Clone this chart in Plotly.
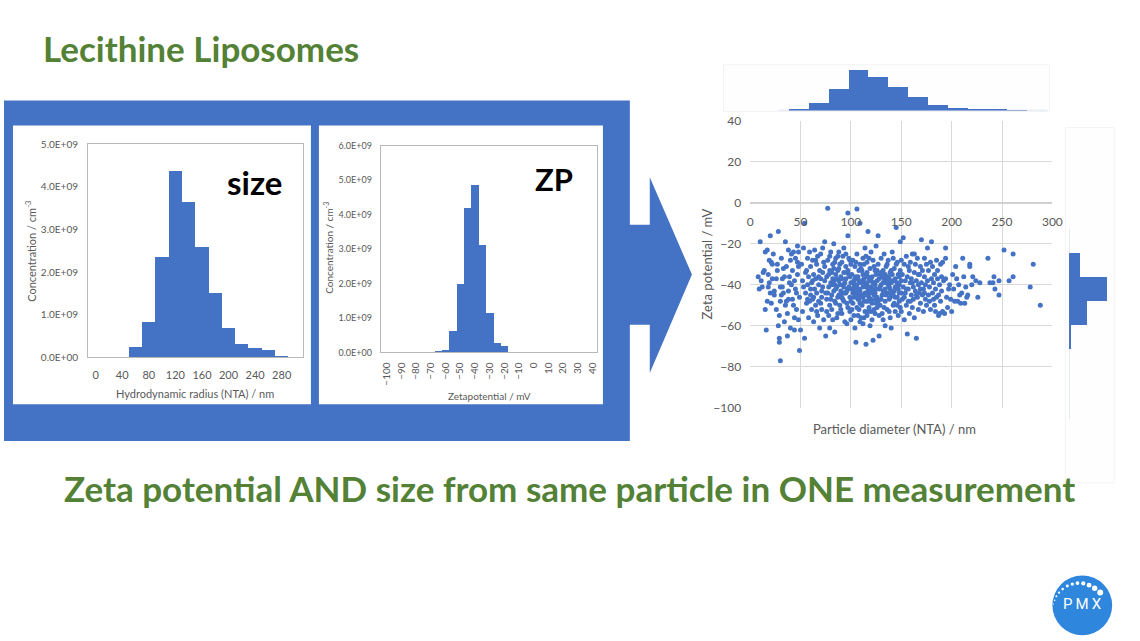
import plotly.graph_objects as go

W, H = 1140, 641

# ---------------- data ----------------
size_bin_centers_nm = [60, 80, 100, 120, 140, 160, 180, 200, 220, 240, 260, 280]
size_concentration = [0.24e9, 0.83e9, 2.36e9, 4.36e9, 3.63e9, 2.59e9, 1.51e9, 0.69e9,
                      0.32e9, 0.22e9, 0.17e9, 0.04e9]
size_xticks = [0, 40, 80, 120, 160, 200, 240, 280]
size_yticks = [0, 1e9, 2e9, 3e9, 4e9, 5e9]
size_yticklabels = ["0.0E+00", "1.0E+09", "2.0E+09", "3.0E+09", "4.0E+09", "5.0E+09"]

zp_bin_centers_mV = [-65, -60, -55, -50, -45, -40, -35, -30, -25, -20]
zp_concentration = [0.03e9, 0.08e9, 0.64e9, 2.0e9, 4.19e9, 4.86e9, 3.13e9, 1.16e9, 0.29e9, 0.19e9]
zp_xticks = [-100, -90, -80, -70, -60, -50, -40, -30, -20, -10, 0, 10, 20, 30, 40]
zp_yticks = [0, 1e9, 2e9, 3e9, 4e9, 5e9, 6e9]
zp_yticklabels = ["0.0E+00", "1.0E+09", "2.0E+09", "3.0E+09", "4.0E+09", "5.0E+09", "6.0E+09"]

particle_diameter_nm = [
    8, 10, 11, 12, 14, 15, 16, 17, 18, 19,
    20, 21, 22, 23, 24, 13, 17, 19, 21, 24,
    9, 15, 22, 18, 20, 26, 27, 28, 28, 29,
    29, 30, 30, 31, 32, 33, 34, 35, 35, 36,
    37, 37, 38, 38, 39, 40, 40, 41, 42, 42,
    43, 44, 44, 45, 46, 46, 47, 47, 48, 48,
    49, 49, 50, 26, 31, 33, 36, 39, 41, 43,
    45, 47, 29, 34, 38, 44, 48, 30, 27, 32,
    51, 52, 52, 53, 54, 54, 55, 55, 56, 57,
    57, 58, 58, 59, 60, 60, 61, 61, 62, 62,
    63, 63, 64, 64, 65, 65, 66, 66, 67, 67,
    68, 68, 69, 69, 70, 70, 71, 71, 72, 72,
    73, 73, 74, 74, 75, 75, 53, 56, 59, 62,
    65, 68, 71, 74, 66, 60, 70, 57, 63, 72,
    76, 76, 77, 77, 78, 78, 79, 79, 80, 80,
    81, 81, 82, 82, 83, 83, 84, 84, 85, 85,
    86, 86, 87, 87, 88, 88, 89, 89, 90, 90,
    91, 91, 92, 92, 93, 93, 94, 94, 95, 95,
    96, 96, 97, 97, 97, 98, 98, 99, 99, 100,
    100, 77, 79, 81, 83, 85, 87, 89, 91, 93,
    95, 97, 99, 78, 80, 82, 84, 86, 88, 90,
    92, 94, 96, 98, 100, 76, 84, 88, 92, 96,
    99, 93, 87, 81, 79, 85, 91, 97, 83, 95,
    101, 101, 102, 102, 103, 103, 104, 104, 105, 105,
    106, 106, 106, 107, 107, 108, 108, 109, 109, 109,
    110, 110, 111, 111, 112, 112, 113, 113, 114, 114,
    115, 115, 115, 116, 116, 117, 117, 117, 118, 118,
    119, 119, 120, 120, 121, 121, 122, 122, 123, 123,
    124, 124, 125, 125, 102, 104, 106, 108, 110, 112,
    114, 116, 118, 120, 122, 124, 103, 105, 107, 109,
    111, 113, 115, 117, 119, 121, 123, 125, 101, 103,
    105, 107, 109, 111, 113, 115, 117, 119, 121, 123,
    125, 100, 108, 112, 116, 120, 124, 104, 118, 122,
    110, 114, 106, 120, 112, 118, 102, 124, 116, 108,
    126, 126, 127, 127, 128, 128, 129, 129, 130, 130,
    131, 131, 132, 132, 133, 133, 134, 134, 135, 135,
    136, 136, 137, 137, 138, 138, 139, 139, 140, 140,
    141, 141, 142, 142, 143, 143, 144, 144, 145, 145,
    146, 146, 147, 147, 148, 148, 149, 149, 150, 150,
    127, 129, 131, 133, 135, 137, 139, 141, 143, 145,
    147, 149, 126, 128, 130, 132, 134, 136, 138, 140,
    142, 144, 146, 148, 150, 128, 132, 136, 140, 144,
    148, 130, 134, 138, 142, 146, 150, 126, 139, 143,
    151, 151, 152, 152, 153, 153, 154, 154, 155, 155,
    156, 156, 157, 157, 158, 158, 159, 159, 160, 160,
    161, 161, 162, 162, 163, 163, 164, 164, 165, 165,
    166, 166, 167, 167, 168, 168, 169, 169, 170, 170,
    171, 171, 172, 172, 173, 173, 174, 174, 175, 175,
    153, 157, 161, 165, 169, 173, 155, 159, 163, 167,
    176, 176, 177, 177, 178, 178, 179, 179, 180, 180,
    181, 181, 182, 182, 183, 183, 184, 184, 185, 185,
    186, 186, 187, 187, 188, 188, 189, 189, 190, 190,
    191, 191, 192, 193, 194, 194, 194, 195, 196, 197,
    203, 204, 205, 206, 208, 210, 211, 212, 213, 215,
    216, 218, 218, 220, 221, 224, 226, 228, 236, 238,
    241, 242, 243, 247, 247, 252, 257, 261, 261, 278,
    281, 288, 198, 199, 202, 207, 209, 214, 201, 200,
]
zeta_potential_mV = [
    -36, -19, -38, -41, -33, -24, -62, -48, -41, -28,
    -16, -49, -37, -25, -43, -34, -23, -39, -29, -45,
    -42, -52, -30, -35, -44, -37, -30, -14, -60, -66,
    -68, -77, -41, -45, -37, -32, -58, -19, -50, -48,
    -65, -54, -23, -43, -36, -28, -61, -40, -47, -33,
    -24, -56, -38, -27, -44, -52, -35, -21, -31, -57,
    -72, -46, -62, -52, -27, -44, -31, -39, -25, -50,
    -42, -29, -55, -36, -47, -62, -24, -48, -33, -41,
    -30, -38, -53, -22, -10, -66, -44, -34, -49, -27,
    -40, -56, -36, -24, -45, -31, -52, -39, -28, -47,
    -58, -35, -42, -23, -50, -37, -30, -44, -55, -26,
    -40, -48, -33, -61, -37, -25, -46, -52, -34, -41,
    -29, -57, -38, -19, -44, -65, -41, -33, -48, -38,
    -28, -36, -43, -31, -53, -42, -49, -47, -46, -22,
    -36, -47, -2.6, -28, -41, -55, -33, -61, -39, -24,
    -45, -52, -30, -37, -43, -20, -63, -48, -35, -27,
    -41, -56, -33, -46, -38, -24, -50, -30, -43, -36,
    -54, -29, -40, -47, -34, -22, -44, -58, -37, -31,
    -49, -59, -5, -16, -42, -27, -35, -46, -53, -39,
    -30, -44, -50, -34, -38, -42, -26, -40, -37, -48,
    -44, -33, -28, -35, -47, -57, -29, -37, -45, -52,
    -26, -39, -34, -41, -48, -53, -40, -32, -44, -43,
    -36, -41, -54, -40, -26, -49, -46, -51, -32, -25,
    -42, -35, -28, -49, -38, -55, -61, -31, -44, -68,
    -3, -40, -25, -47, -36, -52, -42, -10, -30, -58,
    -39, -45, -33, -50, -27, -41, -37, -56, -44, -22,
    -69, -48, -35, -40, -29, -14, -53, -43, -38, -46,
    -32, -60, -41, -24, -49, -36, -67, -44, -31, -39,
    -54, -47, -21, -42, -44, -37, -51, -33, -56, -46,
    -39, -34, -51, -37, -28, -40, -46, -29, -55, -43,
    -38, -48, -26, -36, -44, -57, -45, -35, -52, -41,
    -36, -42, -49, -45, -30, -41, -48, -38, -42, -52,
    -49, -57, -38, -35, -45, -47, -33, -43, -27, -39,
    -32, -53, -45, -53, -59, -42, -39, -44, -55, -47,
    -38, -46, -16, -30, -42, -65, -35, -50, -40, -27,
    -45, -54, -33, -43, -37, -25, -48, -60, -39, -31,
    -44, -52, -36, -28, -41, -47, -34, -56, -39, -61,
    -45, -24, -38, -50, -32, -43, -37, -53, -12, -41,
    -46, -29, -35, -55, -40, -48, -33, -19, -44, -38,
    -48, -41, -36, -51, -45, -40, -46, -35, -49, -30,
    -42, -51, -33, -55, -47, -39, -42, -30, -53, -44,
    -27, -46, -39, -36, -53, -37, -57, -38, -33, -41,
    -44, -34, -35, -37, -45, -50, -28, -51, -42, -38,
    -35, -47, -17, -41, -30, -57, -44, -38, -50, -26,
    -64, -36, -42, -48, -33, -54, -39, -29, -45, -37,
    -51, -25, -41, -47, -34, -56, -43, -30, -66, -38,
    -46, -27, -40, -52, -35, -44, -31, -49, -18, -39,
    -45, -33, -42, -53, -36, -27, -47, -40, -30, -50,
    -46, -31, -39, -45, -42, -44, -42, -48, -25, -35,
    -22, -38, -45, -33, -48, -41, -29, -52, -19, -37,
    -44, -31, -47, -39, -35, -50, -53, -42, -28, -46,
    -37, -33, -45, -55, -54, -40, -30, -48, -36, -43,
    -53, -29, -38, -54, -22, -27, -37, -46, -51, -42,
    -48, -31, -37, -48, -45, -44, -27, -36, -49, -46,
    -45, -30, -31, -40, -36, -38, -46, -39, -27, -39,
    -39, -36, -42, -38, -45, -23, -38, -25, -36, -41,
    -30, -50, -40, -47, -42, -40, -49, -41, -35, -53,
]
scatter_xticks = [0, 50, 100, 150, 200, 250, 300]
scatter_yticks = [-100, -80, -60, -40, -20, 0, 20, 40]

diam_hist_centers_nm = [48.6, 68.3, 88.0, 107.7, 127.4, 147.1, 166.8, 186.5, 206.2, 225.9, 245.6, 265.3]
diam_hist_counts = [12, 46, 130, 246, 202, 144, 84, 36, 14, 10, 6, 4]

zeta_hist_centers_mV = [-30.2, -41.9, -53.6, -65.3]
zeta_hist_counts = [265, 960, 445, 40]

# ---------------- styling helpers ----------------
BLUE = "#4472C4"
GREEN = "#538135"
GREY = "#595959"
FONT = "Lato"

# The captured picture shows the page slightly inset/shrunk; map slide pixels so they land in place.
OX, SX, OY, SY = 2.0, 0.992, 5.0, 0.981


def px(x):
    return ((x - OX) / SX) / W


def py(y):
    return 1 - ((y - OY) / SY) / H


fig = go.Figure()

fig.add_trace(go.Bar(x=size_bin_centers_nm, y=size_concentration, width=20,
                     marker=dict(color=BLUE, line=dict(width=0)),
                     xaxis="x", yaxis="y", showlegend=False))
fig.add_trace(go.Bar(x=zp_bin_centers_mV, y=zp_concentration, width=5,
                     marker=dict(color=BLUE, line=dict(width=0)),
                     xaxis="x2", yaxis="y2", showlegend=False))
fig.add_trace(go.Scatter(x=particle_diameter_nm, y=zeta_potential_mV, mode="markers",
                         marker=dict(color=BLUE, size=5, line=dict(width=0)),
                         xaxis="x3", yaxis="y3", showlegend=False))
fig.add_trace(go.Bar(x=diam_hist_centers_nm, y=diam_hist_counts, width=19.7,
                     marker=dict(color=BLUE, line=dict(width=0)),
                     xaxis="x4", yaxis="y4", showlegend=False))
fig.add_trace(go.Bar(y=zeta_hist_centers_mV, x=zeta_hist_counts, width=11.7, orientation="h",
                     marker=dict(color=BLUE, line=dict(width=0)),
                     xaxis="x5", yaxis="y5", showlegend=False))

frame = dict(showline=True, mirror=True, linecolor="#b8b8b8", linewidth=1,
             showgrid=False, zeroline=False, ticks="")

# scatter axis geometry
sc_y_dom = [py(406.7), py(118.3)]
sc_y_range = [-100, 40]
zero_pos = sc_y_dom[0] + (0 - sc_y_range[0]) / (sc_y_range[1] - sc_y_range[0]) * (sc_y_dom[1] - sc_y_dom[0])

fig.update_layout(
    width=W, height=H, autosize=False,
    margin=dict(l=0, r=0, t=0, b=0),
    paper_bgcolor="white", plot_bgcolor="rgba(0,0,0,0)",
    font=dict(family=FONT, color=GREY),
    bargap=0,
    xaxis=dict(domain=[px(87.3), px(303.3)], range=[-11.5, 312.5], anchor="y",
               tickvals=size_xticks, tickfont=dict(size=11, color=GREY),
               ticklabelstandoff=7, **frame),
    yaxis=dict(domain=[py(356), py(141.7)], range=[0, 5e9], anchor="x",
               tickvals=size_yticks, ticktext=size_yticklabels,
               tickfont=dict(size=10, color=GREY), ticklabelstandoff=7, **frame),
    xaxis2=dict(domain=[px(381), px(598)], range=[-104, 43], anchor="y2",
                tickvals=zp_xticks, tickangle=-90, tickfont=dict(size=10, color=GREY),
                ticklabelstandoff=5, **frame),
    yaxis2=dict(domain=[py(351), py(143.3)], range=[0, 6e9], anchor="x2",
                tickvals=zp_yticks, ticktext=zp_yticklabels,
                tickfont=dict(size=9, color=GREY), ticklabelstandoff=6, **frame),
    xaxis3=dict(domain=[px(751.7), px(1055)], range=[0, 300], anchor="free", position=zero_pos,
                tickvals=scatter_xticks, showgrid=True, gridcolor="#d9d9d9", gridwidth=1,
                zeroline=False, showline=False, ticks="",
                tickfont=dict(size=12, color=GREY), ticklabelstandoff=10),
    yaxis3=dict(domain=sc_y_dom, range=sc_y_range, anchor="x3",
                tickvals=scatter_yticks, showgrid=True, gridcolor="#d9d9d9", gridwidth=1,
                zeroline=True, zerolinecolor="#d0d0d0", zerolinewidth=1.5,
                showline=False, ticks="",
                tickfont=dict(size=12, color=GREY), ticklabelstandoff=8),
    xaxis4=dict(domain=[px(751.7), px(1055)], range=[0, 300], anchor="y4", visible=False),
    yaxis4=dict(domain=[py(108), py(62)], range=[0, 276], anchor="x4", visible=False),
    xaxis5=dict(domain=[px(1071.7), px(1117.7)], range=[0, 1150], anchor="y5", visible=False),
    yaxis5=dict(domain=[py(418), py(226.7)], range=[-105.5, -12.6], anchor="x5", visible=False),
)

shapes = []
# big blue frame
shapes.append(dict(type="rect", xref="paper", yref="paper", layer="below",
                   x0=px(3), x1=px(631), y0=py(440), y1=py(98),
                   fillcolor=BLUE, line=dict(width=0)))
# arrow
arrow_pts = [(630, 222.7), (651, 222.7), (651, 175), (693.3, 272.7), (651, 371.7), (651, 323.3), (630, 323.3)]
path = "M " + " L ".join(f"{px(a):.5f},{py(b):.5f}" for a, b in arrow_pts) + " Z"
shapes.append(dict(type="path", path=path, xref="paper", yref="paper", layer="below",
                   fillcolor=BLUE, line=dict(width=0)))
# white chart panels
for x0, x1 in [(12, 311), (319, 604)]:
    shapes.append(dict(type="rect", xref="paper", yref="paper", layer="below",
                       x0=px(x0), x1=px(x1), y0=py(403), y1=py(123),
                       fillcolor="white", line=dict(width=0)))
# faint panels behind marginal histograms
shapes.append(dict(type="rect", xref="paper", yref="paper", layer="below",
                   x0=px(725), x1=px(1052), y0=py(109), y1=py(62),
                   fillcolor="#fefefe", line=dict(color="#f3f3f3", width=1)))
shapes.append(dict(type="rect", xref="paper", yref="paper", layer="below",
                   x0=px(1068), x1=px(1117), y0=py(482), y1=py(125),
                   fillcolor="#fefefe", line=dict(color="#f3f3f3", width=1)))
# marginal histogram baselines
shapes.append(dict(type="line", xref="x4", yref="y4", layer="below",
                   x0=28, x1=295, y0=0, y1=0, line=dict(color="#d3dbf0", width=1.5)))
shapes.append(dict(type="line", xref="x5", yref="y5", layer="below",
                   x0=0, x1=0, y0=-12.6, y1=-105.5, line=dict(color="#d3dbf0", width=1.2)))
# PMX logo
LOGO = "#2F86DD"
cx, cy, r = 1085, 605, 30
shapes.append(dict(type="circle", xref="paper", yref="paper",
                   x0=px(cx - r), x1=px(cx + r), y0=py(cy + r), y1=py(cy - r),
                   fillcolor=LOGO, line=dict(width=0)))
logo_dots = [(1056.0, 603.7, 0.6), (1057.3, 600.0, 0.8), (1059.0, 596.0, 1.0), (1061.7, 592.3, 1.1),
             (1065.3, 588.7, 1.3), (1070.0, 585.7, 1.5), (1075.0, 583.7, 1.7), (1080.2, 582.7, 1.9),
             (1086.0, 583.0, 2.1), (1091.8, 584.8, 2.4), (1097.4, 587.9, 2.7), (1103.0, 592.2, 3.0)]
for dx, dy, dr in logo_dots:
    shapes.append(dict(type="circle", xref="paper", yref="paper",
                       x0=px(dx - dr), x1=px(dx + dr), y0=py(dy + dr), y1=py(dy - dr),
                       fillcolor="white", line=dict(width=0)))
fig.update_layout(shapes=shapes)

ann = []


def text(x, y, s, size, color=GREY, bold=False, angle=0, xanchor="center", family=FONT):
    ann.append(dict(x=px(x), y=py(y), xref="paper", yref="paper", text=(f"<b>{s}</b>" if bold else s),
                    showarrow=False, xanchor=xanchor, yanchor="middle", textangle=angle,
                    font=dict(size=size, color=color, family=family)))


text(40, 45, "Lecithine Liposomes", 35, GREEN, bold=True, xanchor="left")
text(570, 487, "Zeta potential AND size from same particle in ONE measurement", 35, GREEN, bold=True)
text(254, 180, "size", 33, "black", bold=True)
text(555, 177, "ZP", 31, "black", bold=True)
text(195, 392, "Hydrodynamic radius (NTA) / nm", 11)
text(30, 249, "Concentration / cm<sup>-3</sup>", 11, angle=-90)
text(490.5, 395, "Zetapotential / mV", 10)
text(329, 246, "Concentration / cm<sup>-3</sup>", 10, angle=-90)
text(708, 262, "Zeta potential / mV", 13, angle=-90)
text(897, 428, "Particle diameter (NTA) / nm", 13)
text(1085, 604, "P\u2009M\u2009X", 15, "white", family="Roboto")
fig.update_layout(annotations=ann)

page_css = ("}); (function(){var s=document.createElement('style');"
            "s.textContent='html,body{margin:0!important;padding:0!important;overflow:hidden;"
            "width:1140px;height:641px;} .plotly-graph-div{position:fixed!important;left:0;top:0;}';"
            "document.head.appendChild(s);})(); (function(){")

fig.write_html("out.html", config={"displayModeBar": False}, post_script=page_css)
